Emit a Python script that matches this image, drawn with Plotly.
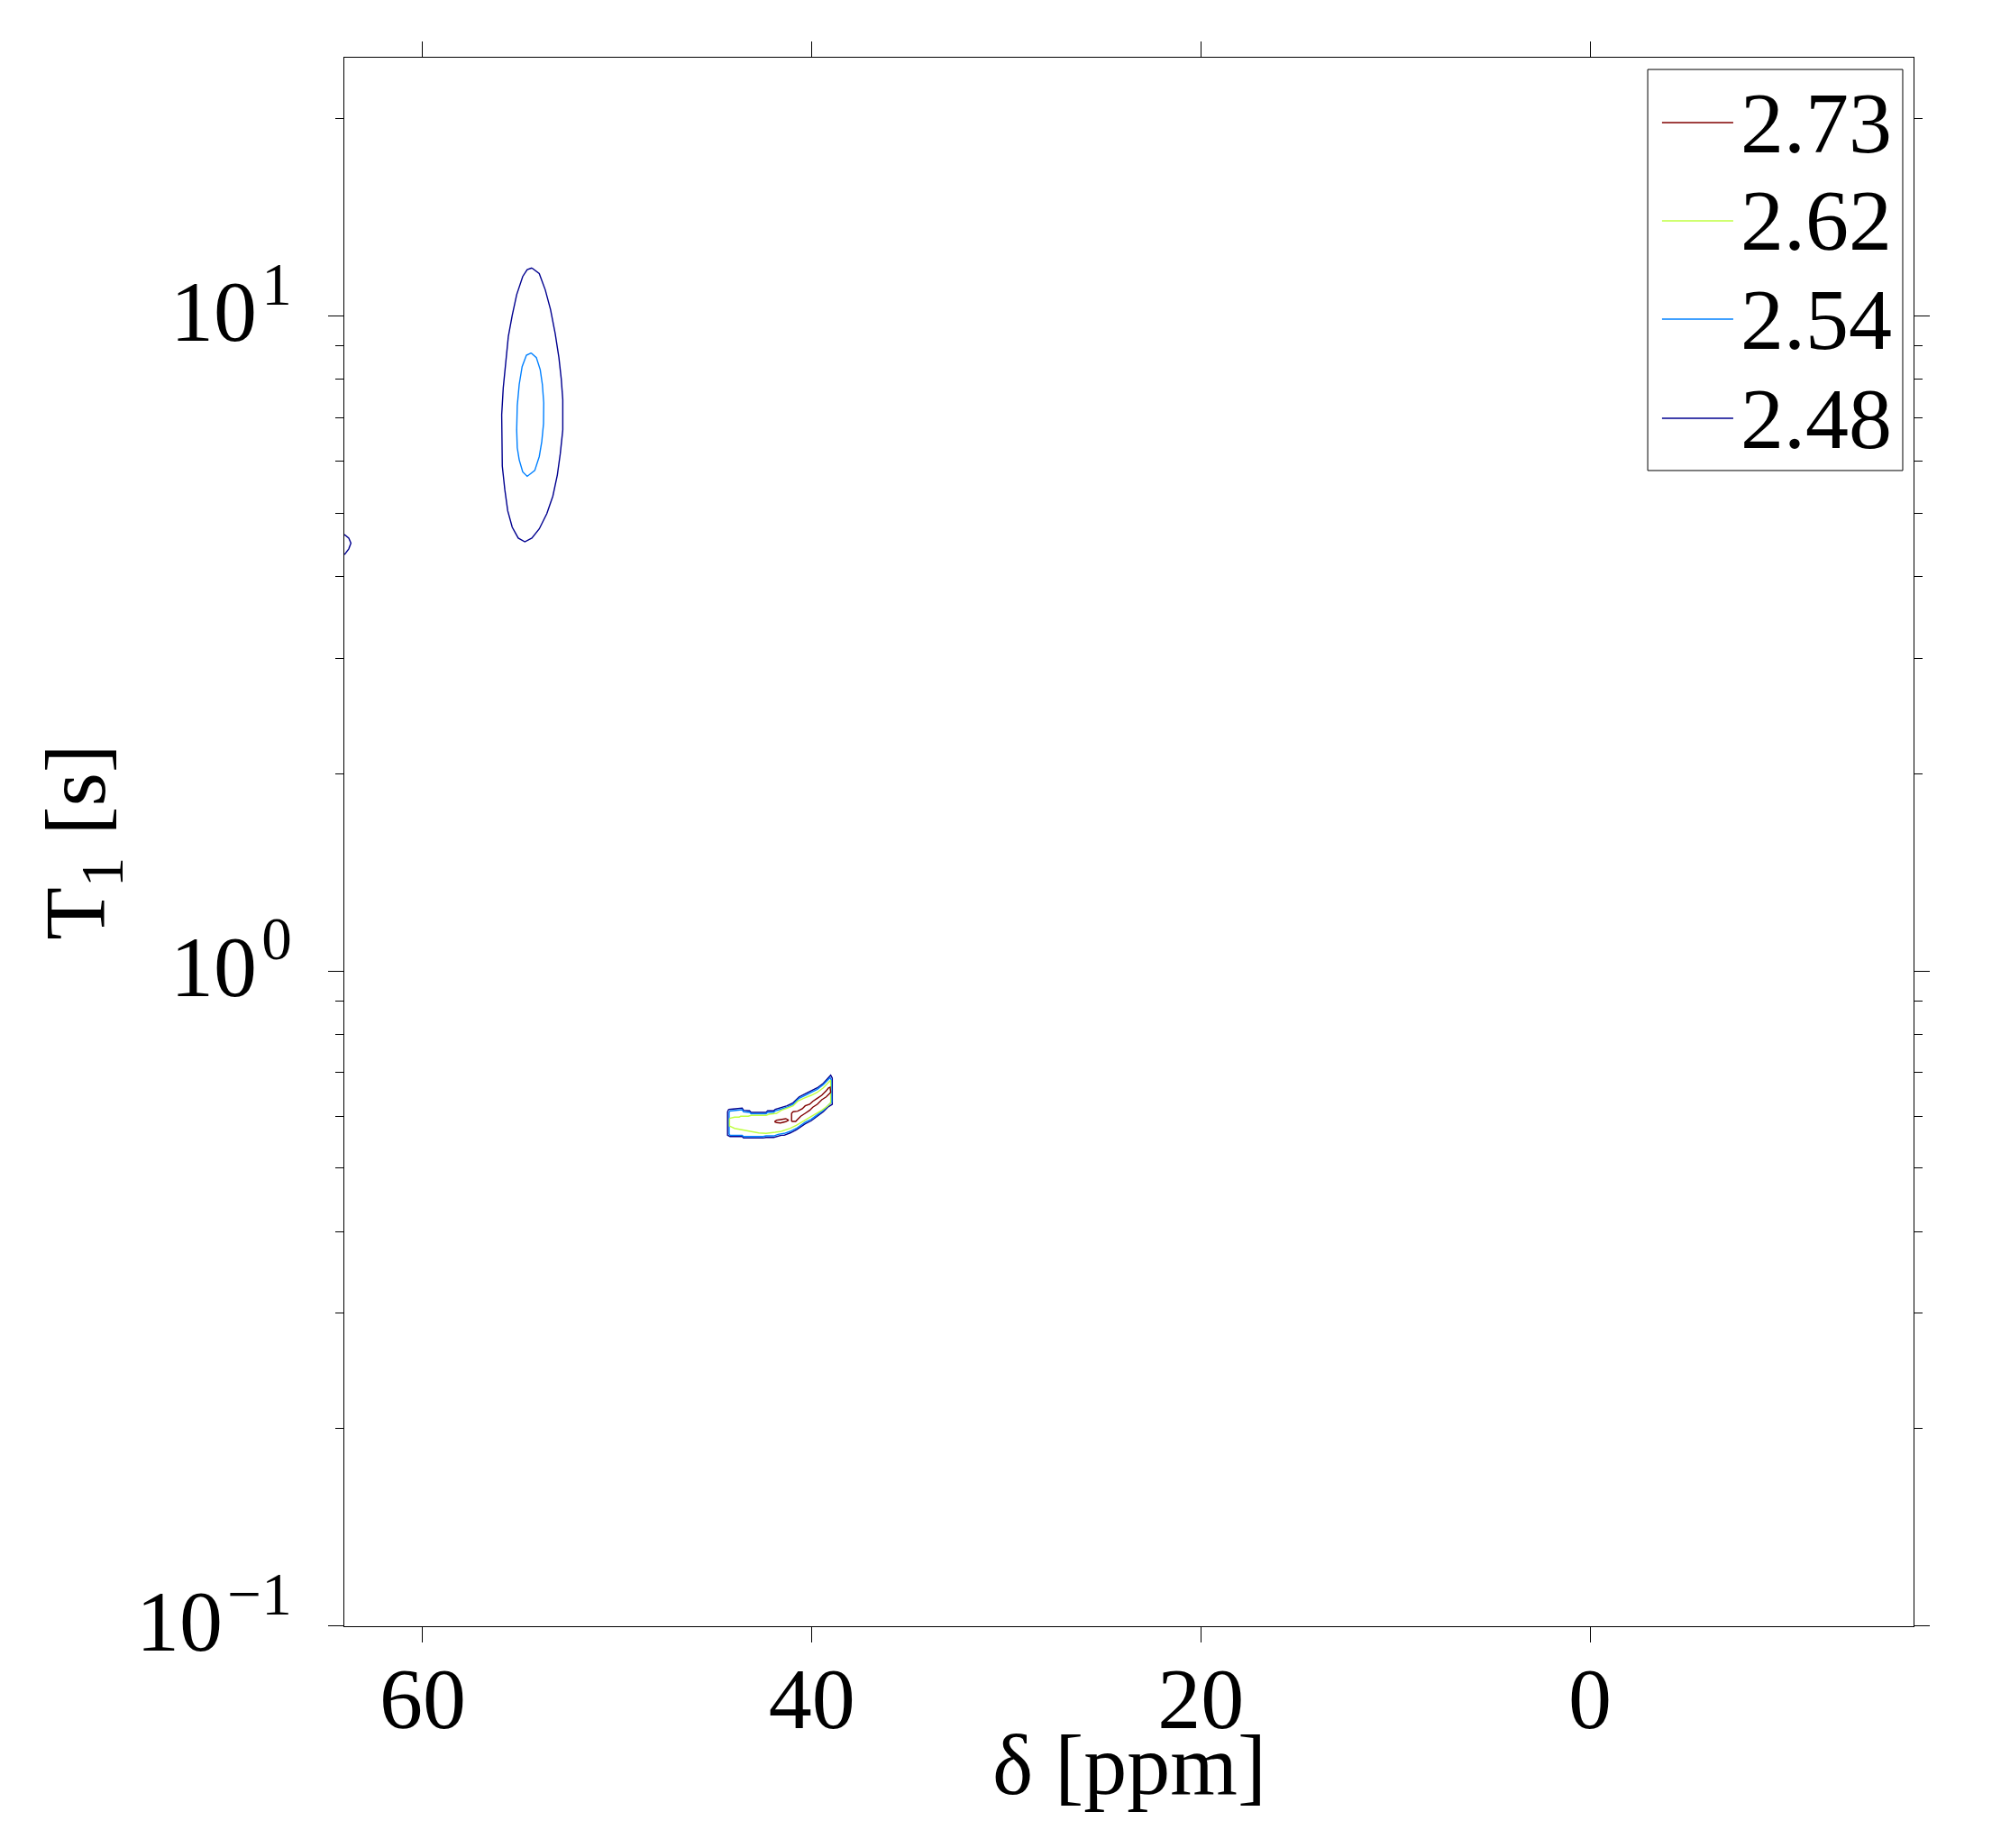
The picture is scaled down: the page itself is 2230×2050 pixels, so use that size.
import plotly.graph_objects as go

# --- contour levels (legend order, top to bottom) ---
niveis = ["2.73", "2.62", "2.54", "2.48"]
cores = ["#800000", "#bfff40", "#0080ff", "#00008f"]

# --- contour outlines: delta [ppm], T1 [s] ---
# level 2.48: long ellipse near 54 ppm
elipse_ext_x = [54.39, 54.01, 53.70, 53.43, 53.19, 53.00, 52.88, 52.80, 52.80, 52.93,
                53.08, 53.31, 53.62, 54.01, 54.39, 54.75, 55.09, 55.40, 55.63, 55.78,
                55.91, 55.94, 55.94, 55.86, 55.75, 55.60, 55.40, 55.17, 54.86, 54.63, 54.39]
elipse_ext_y = [11.84, 11.61, 10.96, 10.23, 9.40, 8.64, 8.02, 7.45, 6.70, 6.16,
                5.72, 5.31, 4.99, 4.73, 4.58, 4.52, 4.58, 4.76, 5.04, 5.43,
                5.90, 6.43, 7.07, 7.77, 8.46, 9.30, 10.02, 10.78, 11.49, 11.77, 11.84]

# level 2.48: small piece cut by the left edge
borda_x = [64.40, 64.00, 63.80, 63.69, 63.80, 64.00, 64.40]
borda_y = [4.66, 4.63, 4.58, 4.50, 4.41, 4.33, 4.30]

# level 2.48: crescent near 41 ppm
cresc_248_x = [44.28, 43.82, 43.58, 43.51, 43.20, 43.12, 42.35, 42.27, 41.96, 41.88,
               41.57, 41.27, 40.96, 40.65, 40.34, 40.03, 39.72, 39.41, 39.18, 39.03,
               38.95, 38.92, 38.95, 39.18, 39.41, 39.72, 40.03, 40.34, 40.57, 40.80,
               41.11, 41.42, 41.57, 41.73, 41.96, 42.35, 42.50, 43.51, 43.58, 44.20,
               44.28, 44.33, 44.33, 44.28]
cresc_248_y = [0.6144, 0.6158, 0.6172, 0.6125, 0.6113, 0.6080, 0.6080, 0.6113, 0.6113, 0.6144,
               0.6191, 0.6222, 0.6289, 0.6422, 0.6492, 0.6560, 0.6629, 0.6735, 0.6858, 0.6930,
               0.6858, 0.6289, 0.6256, 0.6191, 0.6094, 0.5998, 0.5904, 0.5840, 0.5779, 0.5719,
               0.5657, 0.5611, 0.5611, 0.5598, 0.5568, 0.5568, 0.5558, 0.5558, 0.5586, 0.5586,
               0.5611, 0.5611, 0.6094, 0.6144]

# level 2.54
elipse_int_x = [54.43, 54.16, 53.96, 53.85, 53.78, 53.79, 53.88, 54.01, 54.24, 54.63,
                54.86, 55.04, 55.14, 55.17, 55.14, 55.04, 54.89, 54.67, 54.43]
elipse_int_y = [8.78, 8.64, 8.28, 7.86, 7.37, 6.85, 6.43, 6.10, 5.81, 5.69,
                5.78, 6.03, 6.29, 6.70, 7.30, 7.86, 8.37, 8.71, 8.78]

cresc_254_x = [44.22, 43.82, 43.58, 43.51, 43.20, 43.12, 42.35, 42.27, 41.96, 41.88,
               41.57, 41.27, 40.96, 40.65, 40.34, 40.03, 39.72, 39.41, 39.18, 39.06,
               39.00, 38.98, 39.18, 39.41, 39.72, 40.03, 40.34, 40.57, 40.80, 41.11,
               41.42, 41.73, 41.96, 42.35, 42.50, 43.51, 43.58, 44.20, 44.25, 44.25, 44.22]
cresc_254_y = [0.6110, 0.6125, 0.6138, 0.6094, 0.6080, 0.6051, 0.6051, 0.6080, 0.6080, 0.6113,
               0.6158, 0.6191, 0.6256, 0.6390, 0.6457, 0.6525, 0.6596, 0.6701, 0.6808, 0.6869,
               0.6815, 0.6305, 0.6222, 0.6125, 0.6029, 0.5934, 0.5872, 0.5811, 0.5748, 0.5688,
               0.5647, 0.5629, 0.5598, 0.5598, 0.5586, 0.5586, 0.5611, 0.5611, 0.5634, 0.6080, 0.6110]

# level 2.62
cresc_262_x = [44.23, 43.97, 43.74, 43.66, 43.27, 43.12, 42.35, 42.19, 41.81, 41.57,
               41.27, 40.96, 40.73, 40.42, 40.03, 39.72, 39.41, 39.10, 39.03, 39.03,
               39.18, 39.49, 39.88, 40.18, 40.49, 40.80, 41.11, 41.57, 41.88, 42.35,
               42.73, 43.12, 43.51, 43.74, 43.97, 44.20, 44.23, 44.23]
cresc_262_y = [0.5953, 0.5979, 0.5979, 0.5998, 0.5998, 0.6017, 0.6017, 0.6042, 0.6061, 0.6125,
               0.6172, 0.6222, 0.6322, 0.6390, 0.6457, 0.6525, 0.6629, 0.6757, 0.6808, 0.6289,
               0.6222, 0.6125, 0.6029, 0.5953, 0.5872, 0.5811, 0.5748, 0.5688, 0.5670, 0.5647,
               0.5657, 0.5688, 0.5706, 0.5730, 0.5748, 0.5792, 0.5797, 0.5953]

# level 2.73: two small pieces
pico_273_x = [41.04, 41.04, 40.96, 40.73, 40.49, 40.34, 40.11, 39.95, 39.72, 39.49,
              39.26, 39.14, 39.06, 39.03, 39.10, 39.26, 39.49, 39.72, 39.95, 40.11,
              40.34, 40.57, 40.73, 40.83, 41.04]
pico_273_y = [0.5891, 0.6061, 0.6094, 0.6106, 0.6158, 0.6222, 0.6256, 0.6322, 0.6390, 0.6457,
              0.6560, 0.6629, 0.6644, 0.6525, 0.6492, 0.6422, 0.6356, 0.6256, 0.6191, 0.6125,
              0.6061, 0.5998, 0.5934, 0.5891, 0.5891]
ilha_273_x = [41.92, 41.81, 41.61, 41.34, 41.19, 41.34, 41.61, 41.81, 41.92]
ilha_273_y = [0.5885, 0.5915, 0.5928, 0.5947, 0.5915, 0.5885, 0.5859, 0.5866, 0.5885]

# ticks
x_ticks = [60, 40, 20, 0]
y_ticks = [0.1, 1, 10]
y_expoentes = ["\u22121", "0", "1"]
y_minor = [0.2, 0.3, 0.4, 0.5, 0.6, 0.7, 0.8, 0.9, 2, 3, 4, 5, 6, 7, 8, 9, 20]

FONTE = "Liberation Serif"


def juntar(*lacos):
    """Joins several closed loops into one x/y pair, separated by None."""
    xs, ys = [], []
    for lx, ly in lacos:
        if xs:
            xs.append(None)
            ys.append(None)
        xs += lx
        ys += ly
    return xs, ys


def montar_figura():
    contornos = {
        "2.73": juntar((pico_273_x, pico_273_y), (ilha_273_x, ilha_273_y)),
        "2.62": juntar((cresc_262_x, cresc_262_y)),
        "2.54": juntar((elipse_int_x, elipse_int_y), (cresc_254_x, cresc_254_y)),
        "2.48": juntar((elipse_ext_x, elipse_ext_y), (borda_x, borda_y), (cresc_248_x, cresc_248_y)),
    }

    fig = go.Figure()
    # draw lowest level first so the higher ones sit on top
    for nivel, cor in reversed(list(zip(niveis, cores))):
        xs, ys = contornos[nivel]
        fig.add_trace(go.Scatter(
            x=xs, y=ys, mode="lines", name=nivel,
            line=dict(color=cor, width=1.4),
            showlegend=False, connectgaps=False,
        ))

    eixo = dict(
        showline=True, linecolor="black", linewidth=1,
        mirror="allticks", ticks="outside", ticklen=17, tickwidth=1, tickcolor="black",
        showgrid=False, zeroline=False,
        tickfont=dict(family=FONTE, size=96, color="black"),
    )

    # 10^n labels, with a small gap before the exponent
    y_ticktext = ["10<span style='font-size:26px'>\u2009</span><sup>" + e + "</sup>"
                  for e in y_expoentes]

    fig.update_xaxes(
        **eixo,
        range=[64.03, -16.63],
        tickmode="array", tickvals=x_ticks, ticktext=[str(v) for v in x_ticks],
        ticklabelstandoff=-20,
    )
    fig.update_yaxes(
        **eixo,
        type="log",
        range=[-1.0007, 1.3944],
        tickmode="array", tickvals=y_ticks, ticktext=y_ticktext,
        ticklabelstandoff=21, ticklabelshift=-6,
        minor=dict(tickmode="array", tickvals=y_minor, ticks="outside", ticklen=9,
                   tickwidth=1, tickcolor="black", showgrid=False),
        title=dict(text="T<sub>1</sub> [s]", font=dict(family=FONTE, size=96, color="black"), standoff=2),
    )

    # --- legend box drawn by hand (long line samples like the original) ---
    formas = [dict(type="rect", xref="paper", yref="paper",
                   x0=0.8306, x1=0.9931, y0=0.7368, y1=0.9925,
                   line=dict(color="black", width=1), fillcolor="white", layer="above")]
    notas = []
    linhas_y = [0.9586, 0.8960, 0.8333, 0.7701]
    for nivel, cor, yy in zip(niveis, cores, linhas_y):
        formas.append(dict(type="line", xref="paper", yref="paper",
                           x0=0.8397, x1=0.8851, y0=yy, y1=yy,
                           line=dict(color=cor, width=1.4), layer="above"))
        notas.append(dict(xref="paper", yref="paper", x=0.8886, y=yy,
                          text=nivel, showarrow=False, xanchor="left", yanchor="middle",
                          font=dict(family=FONTE, size=96, color="black")))

    # x axis title as a note (axis title standoff can't get close enough)
    notas.append(dict(xref="paper", yref="paper", x=0.5, y=-0.0885,
                      text="\u03b4 [ppm]", showarrow=False, xanchor="center", yanchor="middle",
                      font=dict(family=FONTE, size=96, color="black")))

    # page body adds 8 px around the plot, so the figure is 8 px smaller
    fig.update_layout(
        width=2222, height=2042,
        margin=dict(l=374, r=107, t=56, b=246, autoexpand=False),
        paper_bgcolor="white", plot_bgcolor="white",
        shapes=formas, annotations=notas,
        showlegend=False,
        font=dict(family=FONTE, color="black"),
    )
    return fig


if __name__ == "__main__":
    fig = montar_figura()
    fig.write_html("out.html")
